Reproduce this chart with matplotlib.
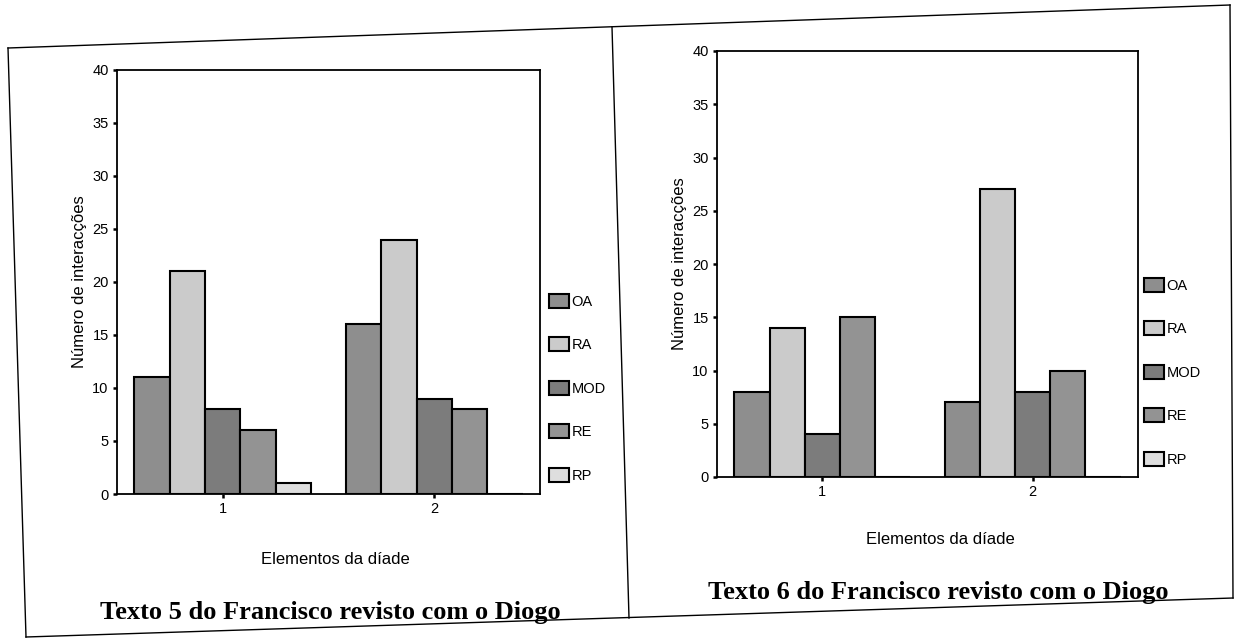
import numpy as np
from matplotlib import pyplot as plt
from matplotlib.lines import Line2D

categories = ["OA", "RA", "MOD", "RE", "RP"]
groups = [1, 2]

# Texto 5 (left panel)
texto5_values = {
    "OA": [11, 16],
    "RA": [21, 24],
    "MOD": [8, 9],
    "RE": [6, 8],
    "RP": [1, 0],
}

# Texto 6 (right panel)
texto6_values = {
    "OA": [8, 7],
    "RA": [14, 27],
    "MOD": [4, 8],
    "RE": [15, 10],
    "RP": [0, 0],
}

titles = ["Texto 5 do Francisco revisto com o Diogo",
          "Texto 6 do Francisco revisto com o Diogo"]

colors = {"OA": "#8e8e8e", "RA": "#cbcbcb", "MOD": "#7c7c7c",
          "RE": "#939393", "RP": "#dedede"}

plt.rcParams['font.family'] = ['Liberation Sans', 'DejaVu Sans']

fig = plt.figure(figsize=(12.39, 6.39), dpi=100)
W, H = 1239, 639


def fx(px):
    return px / W


def fy(py):
    return 1 - py / H


# outer frame and separator (the scanned page is slightly tilted)
frame = [((8, 48), (1230, 5)), ((1230, 5), (1233, 598)),
         ((1233, 598), (26, 637)), ((26, 637), (8, 48)),
         ((612, 27), (629, 618))]
for (x1, y1), (x2, y2) in frame:
    fig.add_artist(Line2D([fx(x1), fx(x2)], [fy(y1), fy(y2)],
                          color="black", lw=1.0))

panels = [
    dict(data=texto5_values, rect=[fx(117), fy(494), fx(540) - fx(117), fy(70) - fy(494)],
         leg=(fx(549), fy(294)), xlab=(fx(335), fy(560)), title_xy=(fx(330), fy(612))),
    dict(data=texto6_values, rect=[fx(717), fy(477), fx(1138) - fx(717), fy(51) - fy(477)],
         leg=(fx(1144), fy(278)), xlab=(fx(940), fy(540)), title_xy=(fx(938), fy(592))),
]

width = 0.167
offsets = (np.arange(len(categories)) - 2) * width
x = np.array(groups, dtype=float)

for i, p in enumerate(panels):
    ax = fig.add_axes(p["rect"])
    handles = []
    for k, cat in enumerate(categories):
        b = ax.bar(x + offsets[k], p["data"][cat], width, color=colors[cat],
                   edgecolor="black", linewidth=1.5, label=cat)
        handles.append(b)
    ax.set_xlim(0.5, 2.5)
    ax.set_ylim(0, 40)
    ax.set_yticks(range(0, 41, 5))
    ax.set_xticks(groups)
    ax.tick_params(axis="both", direction="out", length=3, width=1.8,
                   labelsize=10.5, pad=3)
    for s in ax.spines.values():
        s.set_linewidth(1.3)
    ax.set_ylabel("Número de interacções", fontsize=12, labelpad=4)
    fig.text(p["xlab"][0], p["xlab"][1], "Elementos da díade",
             ha="center", va="center", fontsize=12)
    fig.legend(handles=handles, labels=categories, loc="upper left",
               bbox_to_anchor=p["leg"], frameon=False, fontsize=10.5,
               labelspacing=1.95, handlelength=1.4, handleheight=1.1,
               handletextpad=0.15, borderpad=0, borderaxespad=0)
    fig.text(p["title_xy"][0], p["title_xy"][1], titles[i], ha="center", va="center",
             fontsize=19, fontweight="bold", family=["Liberation Serif", "DejaVu Serif"])

plt.savefig("out.png", dpi=100)
